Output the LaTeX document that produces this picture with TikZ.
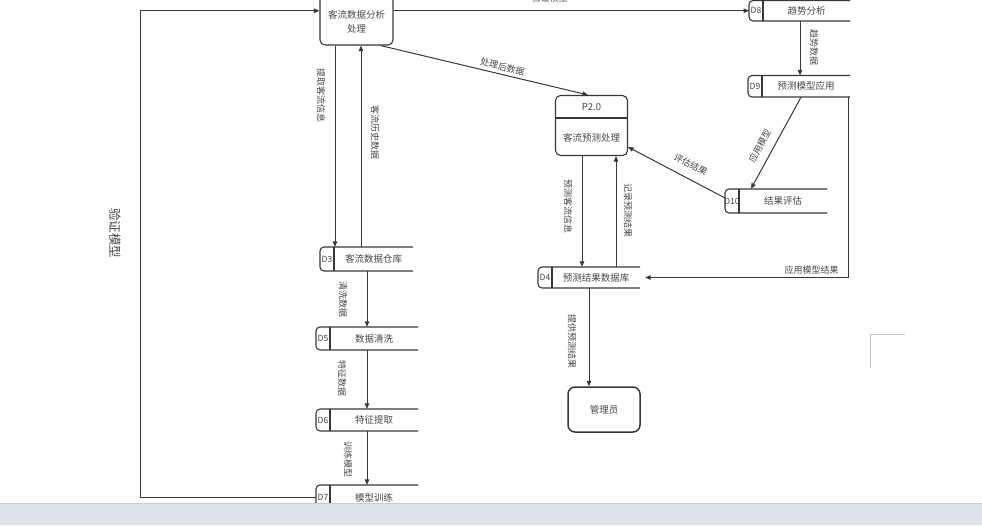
\documentclass[tikz,border=0pt]{standalone}
\usepackage{fontspec}
\setmainfont{Noto Sans CJK SC}
\usetikzlibrary{arrows.meta, calc}
\definecolor{cline}{RGB}{55, 55, 55}
\definecolor{ctext}{RGB}{70, 70, 70}
\definecolor{cbar}{RGB}{223, 227, 233}
\definecolor{cbarline}{RGB}{200, 204, 210}
\definecolor{cfaint}{RGB}{195, 195, 195}
\tikzset{
  proc/.style={draw=cline, line width=1.1pt, rounded corners=5pt, inner sep=0pt},
  storeline/.style={draw=cline, line width=1.1pt},
  storetxt/.style={inner sep=0pt, text=ctext, font=\fontsize{9.5}{11}\selectfont},
  idtxt/.style={inner sep=0pt, text=ctext, font=\fontsize{8.5}{10}\selectfont},
  txt/.style={text=ctext, align=center, inner sep=0pt, font=\fontsize{9.5}{14}\selectfont},
  arr/.style={-{Triangle[length=5.5pt, width=4.5pt]}, line width=1pt, draw=cline},
  vlab/.style={rotate=-90, text=ctext, inner sep=1pt, font=\fontsize{9}{10}\selectfont},
  slab/.style={sloped, text=ctext, inner sep=1pt, font=\fontsize{9}{10}\selectfont},
}
% data store: name, id, text, left, top, right, bottom
\newcommand{\dstore}[7]{%
  \draw[storeline, rounded corners=4pt] (#6,#5) -- (#4,#5) -- (#4,#7) -- (#6,#7);
  \draw[storeline] (#4+14,#5) -- (#4+14,#7);
  \coordinate (#1in) at (#4,{(#5+#7)/2});
  \node[idtxt] (#1id) at (#4+7,{(#5+#7)/2}) {#2};
  \node[storetxt, minimum width={(#6-#4-14)*1pt}, minimum height={(#7-#5)*1pt}]
    (#1) at ({(#4+14+#6)/2},{(#5+#7)/2}) {#3};
}

\begin{document}
\begin{tikzpicture}[x=1pt, y=-1pt]
\useasboundingbox (0,0) rectangle (982,525);

% ---------- 处理过程 ----------
\node[proc, minimum width=73pt, minimum height=65pt] (proc1) at (356.5,12.5) {};
\node[txt] (proc1txt) at (356.5,22) {客流数据分析\\处理};

\node[proc, minimum width=72pt, minimum height=60pt] (p2) at (591.5,125.5) {};
\draw[storeline] (p2.west |- 0,118) -- (p2.east |- 0,118);
\node[txt] (p2id) at (591.5,107) {P2.0};
\node[txt] (p2txt) at (591.5,138) {客流预测处理};

\node[proc, minimum width=72pt, minimum height=45pt, rounded corners=7pt,
      line width=1.5pt, text=ctext, font=\fontsize{9.5}{11}\selectfont] (admin) at (604,409.5) {管理员};

% ---------- 数据存储 ----------
\dstore{d8}{D8}{趋势分析}{749}{0.5}{850}{21}
\dstore{d9}{D9}{预测模型应用}{748}{75.5}{850}{97}
\dstore{d10}{D10}{结果评估}{725}{189}{827}{213}
\dstore{d4}{D4}{预测结果数据库}{538}{267}{640}{288}
\dstore{d3}{D3}{客流数据仓库}{320}{247}{413}{271}
\dstore{d5}{D5}{数据清洗}{316}{327}{418}{350}
\dstore{d6}{D6}{特征提取}{316}{409}{418}{431}
\dstore{d7}{D7}{模型训练}{316}{485}{418}{510}

% ---------- 数据流 ----------
\draw[arr] (d7in) -- ++(-176,0) |- (proc1.west |- d8in);
\node[vlab, font=\fontsize{12.5}{14}\selectfont] (lblverify) at (115,233) {验证模型};
\draw[arr] (proc1.east |- d8in) -- (d8in)
  node[slab, pos=0.44, above=7pt] (lbltop) {验证模型};

\draw[arr] (proc1.south -| 335,0) -- (d3.north -| 335,0)
  node[xshift=-14pt, vlab, pos=0.25] (lblfetch) {提取客流信息};
\draw[arr] (d3.north -| 361,0) -- (proc1.south -| 361,0)
  node[xshift=14pt, vlab, pos=0.57] (lblhist) {客流历史数据};
\draw[arr] (d3.south -| 367,0) -- (d5.north -| 367,0)
  node[xshift=-24pt, vlab, pos=0.5] (lblclean) {清洗数据};
\draw[arr] (d5.south -| 367,0) -- (d6.north -| 367,0)
  node[xshift=-25pt, vlab, pos=0.49] (lblfeat) {特征数据};
\draw[arr] (d6.south -| 367,0) -- (d7.north -| 367,0)
  node[xshift=-19pt, vlab, pos=0.52] (lbltrain) {训练模型};

\draw[arr] ([xshift=-13pt]proc1.south east) -- (p2.north -| 588,0)
  node[slab, pos=0.58, above=2pt] (lblproc) {处理后数据};
\draw[arr] (d8.south -| 800,0) -- (d9.north -| 800,0)
  node[xshift=14pt, vlab, pos=0.48] (lbltrend) {趋势数据};
\draw[arr] (d9.south -| 801,0) -- (d10.north -| 751,0)
  node[slab, pos=0.6, above=7pt] (lblapply) {应用模型};
\draw[arr] ([yshift=3pt]d10in) -- (p2.east |- 0,147)
  node[slab, pos=0.42, above=8pt] (lbleval) {评估结果};

\draw[arr] (p2.south -| 582,0) -- (d4.north -| 582,0)
  node[xshift=-14pt, vlab, pos=0.46] (lblpred) {预测客流信息};
\draw[arr] (d4.north -| 616,0) -- (p2.south -| 616,0)
  node[xshift=12pt, vlab, pos=0.51] (lblrec) {记录预测结果};
\draw[arr] (d9.south -| 848,0) |- ([xshift=5pt]d4.east)
  node[slab, pos=0.59, above=2pt] (lblres) {应用模型结果};
\draw[arr] (d4.south -| 589,0) -- (admin.north -| 589,0)
  node[xshift=-17pt, vlab, pos=0.54] (lblgive) {提供预测结果};

% ---------- 底栏 ----------
\fill[cbar] (0,503) rectangle (982,525);
\draw[cbarline, line width=0.6pt] (0,503) -- (982,503);
\draw[cfaint, line width=0.8pt] (870,368) -- (870,334) -- (905,334);

\end{tikzpicture}
\end{document}
